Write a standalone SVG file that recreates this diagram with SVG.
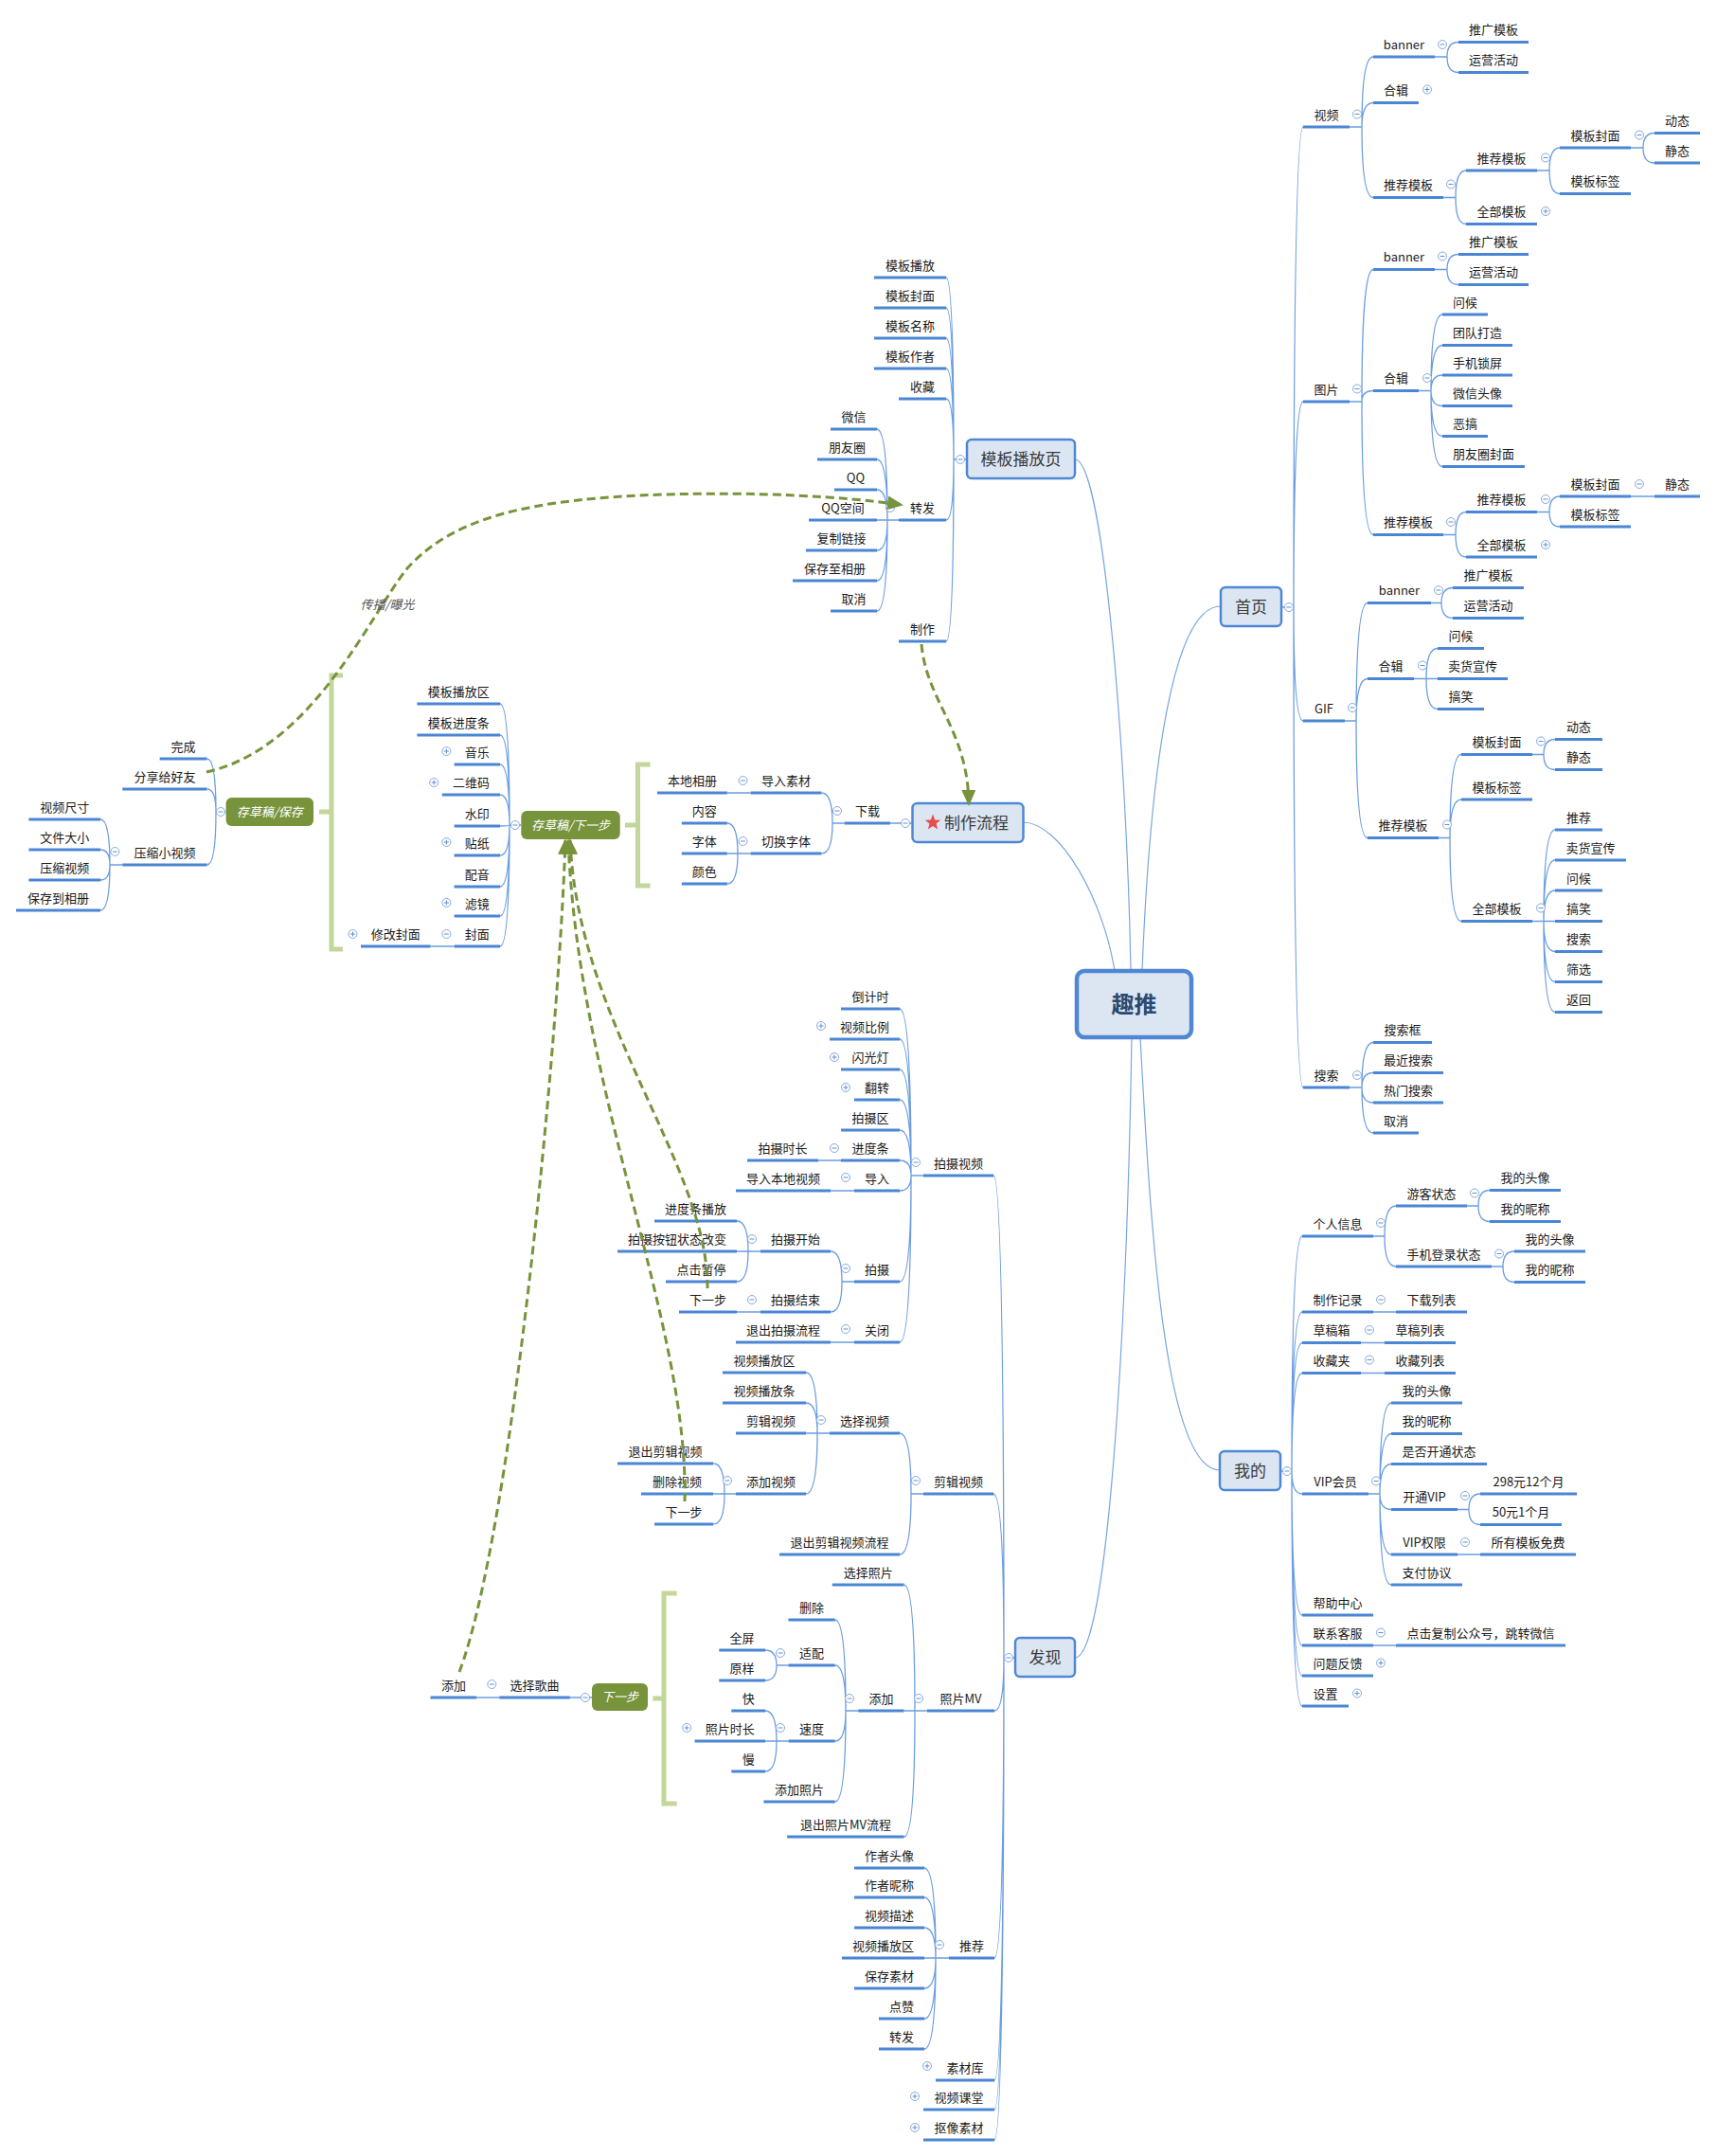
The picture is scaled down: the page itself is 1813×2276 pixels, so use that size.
<svg xmlns="http://www.w3.org/2000/svg" xmlns:xlink="http://www.w3.org/1999/xlink" width="1813" height="2276" viewBox="0 0 1813 2276">
<style>
.u{stroke:#4a86d4;stroke-width:3;fill:none}
.c{stroke:#6b9de0;stroke-width:1.3;fill:none}
.cr{stroke:#7aa6e0;stroke-width:1.2;fill:none}
text{font-family:"Noto Sans CJK SC","Noto Sans",sans-serif;font-size:13px;fill:#1a1a1a;text-anchor:middle}
.bc{fill:#fff;stroke:#86a9dc;stroke-width:1}
.bl{stroke:#5f8fd3;stroke-width:1;fill:none}
.box{fill:#dce6f2;stroke:#4f87d4;stroke-width:2.5}
.bt{font-size:17px;fill:#3a3a3a}
.gbox{fill:#77933c}
.gt{fill:#fff;font-style:italic}
.br{stroke:#c3d69b;stroke-width:5;fill:none}
.rel{stroke:#77933c;stroke-width:3;stroke-dasharray:9 5;fill:none;marker-end:url(#arr)}
</style>
<defs>
<g id="m"><circle r="4.5" class="bc"/><path d="M-2.5 0H2.5" class="bl"/></g>
<g id="p"><circle r="4.5" class="bc"/><path d="M-2.5 0H2.5M0 -2.5V2.5" class="bl"/></g>
<marker id="arr" markerUnits="userSpaceOnUse" markerWidth="17" markerHeight="15" viewBox="0 0 17 15" refX="15" refY="7.5" orient="auto"><path d="M0 0L17 7.5L0 15Z" fill="#77933c"/></marker>
</defs>
<rect width="1813" height="2276" fill="#fff"/>

<g id="connectors">
<path class="cr" d="M1135 485C1165 485 1190 800 1194 1025M1289 640C1240 640 1215 800 1206 1025M1080 868C1120 868 1165 950 1177 1025M1135 1750C1170 1750 1190 1400 1195 1095M1288 1552C1230 1552 1215 1300 1204 1095"/>
<path class="c" d="M1353 641H1366M1366 641Q1366 134 1376 134M1366 641Q1366 424 1376 424M1366 641Q1366 761 1376 761M1366 641Q1366 1148 1376 1148"/>
<path class="c" d="M1425 134H1438M1438 134Q1438 60 1450 60M1438 134Q1438 108.5 1450 108.5M1438 134Q1438 208.5 1450 208.5M1515 60H1528M1528 60Q1528 44.5 1540 44.5M1528 60Q1528 76.5 1540 76.5M1524 208.5H1537M1537 208.5Q1537 180 1548 180M1537 208.5Q1537 236.5 1548 236.5M1623 180H1636M1636 180Q1636 156 1647 156M1636 180Q1636 204.5 1647 204.5M1722 156H1735M1735 156Q1735 140.5 1747 140.5M1735 156Q1735 172 1747 172"/>
<path class="c" d="M1425 424H1438M1438 424Q1438 284.5 1450 284.5M1438 424Q1438 412.5 1450 412.5M1438 424Q1438 564.5 1450 564.5M1515 284.5H1528M1528 284.5Q1528 268.5 1540 268.5M1528 284.5Q1528 300.5 1540 300.5M1498 412.5H1511M1511 412.5Q1511 332 1523 332M1511 412.5Q1511 364.5 1523 364.5M1511 412.5Q1511 396 1523 396M1511 412.5Q1511 428.5 1523 428.5M1511 412.5Q1511 460.5 1523 460.5M1511 412.5Q1511 492.5 1523 492.5M1524 564.5H1537M1537 564.5Q1537 540.5 1548 540.5M1537 564.5Q1537 588 1548 588M1623 540.5H1636M1636 540.5Q1636 524 1647 524M1636 540.5Q1636 556 1647 556M1722 524H1747"/>
<path class="c" d="M1420 761H1432M1432 761Q1432 636.5 1444 636.5M1432 761Q1432 716.5 1444 716.5M1432 761Q1432 884.5 1444 884.5M1511 636.5H1522M1522 636.5Q1522 620.5 1534 620.5M1522 636.5Q1522 652.5 1534 652.5M1493 716.5H1506M1506 716.5Q1506 684.5 1518 684.5M1506 716.5H1518M1506 716.5Q1506 748.5 1518 748.5M1519 884.5H1531M1531 884.5Q1531 796.5 1543 796.5M1531 884.5Q1531 844 1543 844M1531 884.5Q1531 972.5 1543 972.5M1618 796.5H1630M1630 796.5Q1630 780.5 1642 780.5M1630 796.5Q1630 812.5 1642 812.5M1618 972.5H1630M1630 972.5Q1630 876 1642 876M1630 972.5Q1630 908 1642 908M1630 972.5Q1630 940 1642 940M1630 972.5H1642M1630 972.5Q1630 1004.5 1642 1004.5M1630 972.5Q1630 1036.5 1642 1036.5M1630 972.5Q1630 1068.5 1642 1068.5"/>
<path class="c" d="M1425 1148H1438M1438 1148Q1438 1100.5 1450 1100.5M1438 1148Q1438 1132.5 1450 1132.5M1438 1148Q1438 1164 1450 1164M1438 1148Q1438 1196 1450 1196"/>
<path class="c" d="M1352 1553H1364M1364 1553Q1364 1305 1375 1305M1364 1553Q1364 1385 1375 1385M1364 1553Q1364 1417.5 1375 1417.5M1364 1553Q1364 1449.5 1375 1449.5M1364 1553Q1364 1577 1375 1577M1364 1553Q1364 1705 1375 1705M1364 1553Q1364 1737 1375 1737M1364 1553Q1364 1769 1375 1769M1364 1553Q1364 1801 1375 1801M1450 1305H1462M1462 1305Q1462 1273 1474 1273M1462 1305Q1462 1337 1474 1337M1549 1273H1561M1561 1273Q1561 1256.5 1573 1256.5M1561 1273Q1561 1289.5 1573 1289.5M1575 1337H1587M1587 1337Q1587 1321 1599 1321M1587 1337Q1587 1353.5 1599 1353.5M1450 1385H1474M1437 1417.5H1462M1437 1449.5H1462M1445 1577H1457M1457 1577Q1457 1481 1469 1481M1457 1577Q1457 1513.5 1469 1513.5M1457 1577Q1457 1545.5 1469 1545.5M1457 1577Q1457 1593.5 1469 1593.5M1457 1577Q1457 1641 1469 1641M1457 1577Q1457 1673 1469 1673M1539 1593.5H1551M1551 1593.5Q1551 1577 1563 1577M1551 1593.5Q1551 1609.5 1563 1609.5M1539 1641H1563M1450 1737H1474"/>
<path class="c" d="M1021 485H1007M1007 485Q1007 293 999 293M1007 485Q1007 325 999 325M1007 485Q1007 357 999 357M1007 485Q1007 389 999 389M1007 485Q1007 421 999 421M1007 485Q1007 549 999 549M1007 485Q1007 677 999 677M949 549H937M937 549Q937 453 926 453M937 549Q937 485 926 485M937 549Q937 517 926 517M937 549H926M937 549Q937 581 926 581M937 549Q937 613 926 613M937 549Q937 645 926 645"/>
<path class="c" d="M963.5 869H940M891.8 869H879M879 869Q879 837 867.4 837M879 869Q879 901 867.4 901M792.6 837H767.8M792.6 901H779M779 901Q779 869 767.8 869M779 901H767.8M779 901Q779 933 767.8 933"/>
<path class="c" d="M550.3 871H538M538 871Q538 743 528 743M538 871Q538 776 528 776M538 871Q538 807 528 807M538 871Q538 839 528 839M538 871Q538 872 528 872M538 871Q538 903 528 903M538 871Q538 936 528 936M538 871Q538 967 528 967M538 871Q538 999 528 999M479.6 999H454.6M238.6 857H228M228 857Q228 801 218.6 801M228 857Q228 833 218.6 833M228 857Q228 913 218.6 913M129.3 913H116M116 913Q116 865 106 865M116 913Q116 897 106 897M116 913Q116 929 106 929M116 913Q116 961 106 961"/>
<path class="c" d="M1071.6 1750H1060M1060 1750Q1060 1241 1049 1241M1060 1750Q1060 1577 1049 1577M1060 1750Q1060 1806 1050 1806M1060 1750Q1060 2067 1050 2067M1060 1750Q1060 2196 1050 2196M1060 1750Q1060 2227 1050 2227M1060 1750Q1060 2259 1050 2259"/>
<path class="c" d="M975 1241H962M962 1241Q962 1065 950 1065M962 1241Q962 1097 950 1097M962 1241Q962 1129 950 1129M962 1241Q962 1161 950 1161M962 1241Q962 1193 950 1193M962 1241Q962 1225 950 1225M962 1241Q962 1257 950 1257M962 1241Q962 1353 950 1353M962 1241Q962 1417 950 1417M888 1225H864M902 1257H877M902 1353H889M889 1353Q889 1321 877 1321M889 1353Q889 1385 877 1385M803 1321H790M790 1321Q790 1289 778 1289M790 1321H778M790 1321Q790 1353 778 1353M803 1385H778M902 1417H877"/>
<path class="c" d="M975 1577H962M962 1577Q962 1513 950 1513M962 1577Q962 1641 950 1641M876 1513H863M863 1513Q863 1449 851 1449M863 1513Q863 1481 851 1481M863 1513H851M863 1513Q863 1577 851 1577M777 1577H765M765 1577Q765 1545 753 1545M765 1577H753M765 1577Q765 1609 753 1609"/>
<path class="c" d="M979 1806H966M966 1806Q966 1673 954.6 1673M966 1806H954.6M966 1806Q966 1939 954.6 1939M906.2 1806H893M893 1806Q893 1710 881.7 1710M893 1806Q893 1758 881.7 1758M893 1806Q893 1838 881.7 1838M893 1806Q893 1902 881.7 1902M832.5 1758H820M820 1758Q820 1742 808 1742M820 1758Q820 1774 808 1774M832.5 1838H820M820 1838Q820 1806 808 1806M820 1838H808M820 1838Q820 1870 808 1870M625 1792H601.8M527.3 1792H503.3"/>
<path class="c" d="M1002 2067H988M988 2067Q988 1972 976 1972M988 2067Q988 2003 976 2003M988 2067Q988 2035 976 2035M988 2067H976M988 2067Q988 2099 976 2099M988 2067Q988 2131 976 2131M988 2067Q988 2163 976 2163"/>
<path class="br" d="M686.5 807H673.5V935H686.5M673.5 871H660"/>
<path class="br" d="M362 713H350V1002H362M350 857H337"/>
<path class="br" d="M714.6 1682H701V1904H714.6M701 1793H689.4"/>
</g>

<g id="root"><rect x="1137" y="1025" width="121" height="70" rx="8" fill="#dce6f2" stroke="#4f87d4" stroke-width="4.5"/><text x="1197.5" y="1068.5" style="font-size:24px;font-weight:bold;fill:#2b4a72">趣推</text></g>
<g id="n-mbbfy"><rect class="box" x="1021" y="464" width="114" height="41" rx="5"/><text class="bt" x="1078" y="491">模板播放页</text><use href="#m" x="1014" y="485"/></g>
<g id="n-shouye"><rect class="box" x="1289" y="620" width="64" height="41" rx="5"/><text class="bt" x="1321" y="647">首页</text><use href="#m" x="1361" y="641"/></g>
<g id="n-wode"><rect class="box" x="1288" y="1532" width="64" height="41" rx="5"/><text class="bt" x="1320" y="1559">我的</text><use href="#m" x="1359" y="1553"/></g>
<g id="n-faxian"><rect class="box" x="1072" y="1729" width="63" height="41" rx="5"/><text class="bt" x="1103.5" y="1756">发现</text><use href="#m" x="1065" y="1750"/></g>
<g id="n-zzlc"><rect class="box" x="963.5" y="848" width="117" height="41" rx="5"/><path d="M985 859.5L987.2 865.5L993.3 865.7L988.5 869.6L990.2 875.5L985 872L979.8 875.5L981.5 869.6L976.7 865.7L982.8 865.5Z" fill="#e84c4c"/><text class="bt" x="997" y="874.5" style="text-anchor:start">制作流程</text><use href="#m" x="956" y="869"/></g>
<g id="n-ccgxyb"><rect class="gbox" x="550.3" y="856" width="104.4" height="30" rx="6"/><text class="gt" x="602.5" y="875.5">存草稿/下一步</text><use href="#m" x="544" y="871"/></g>
<g id="n-ccgbc"><rect class="gbox" x="238.6" y="842" width="92.4" height="30" rx="6"/><text class="gt" x="284.8" y="861.5">存草稿/保存</text><use href="#m" x="233" y="857"/></g>
<g id="n-xyb"><rect class="gbox" x="625" y="1777" width="59" height="29" rx="6"/><text class="gt" x="654.5" y="1796">下一步</text><use href="#m" x="618" y="1792"/></g>

<g id="branch-shouye">
<g id="n1"><path class="u" d="M1376 134H1425"/><text x="1400.5" y="125.5">视频</text><use href="#m" x="1433" y="120.5"/></g>
<g id="n2"><path class="u" d="M1450 60H1515"/><text x="1482.5" y="51.5">banner</text><use href="#m" x="1523" y="47"/></g>
<g id="n3"><path class="u" d="M1540 44.5H1614"/><text x="1577" y="36">推广模板</text></g>
<g id="n4"><path class="u" d="M1540 76.5H1614"/><text x="1577" y="68">运营活动</text></g>
<g id="n5"><path class="u" d="M1450 108.5H1498"/><text x="1474" y="100">合辑</text><use href="#p" x="1507" y="94.5"/></g>
<g id="n6"><path class="u" d="M1450 208.5H1524"/><text x="1487" y="200">推荐模板</text><use href="#m" x="1532" y="194.5"/></g>
<g id="n7"><path class="u" d="M1548 180H1623"/><text x="1585.5" y="171.5">推荐模板</text><use href="#m" x="1632" y="166.5"/></g>
<g id="n8"><path class="u" d="M1647 156H1722"/><text x="1684.5" y="147.5">模板封面</text><use href="#m" x="1731" y="142.5"/></g>
<g id="n9"><path class="u" d="M1747 140.5H1795"/><text x="1771" y="132">动态</text></g>
<g id="n10"><path class="u" d="M1747 172H1795"/><text x="1771" y="163.5">静态</text></g>
<g id="n11"><path class="u" d="M1647 204.5H1722"/><text x="1684.5" y="196">模板标签</text></g>
<g id="n12"><path class="u" d="M1548 236.5H1623"/><text x="1585.5" y="228">全部模板</text><use href="#p" x="1632" y="223"/></g>
<g id="n13"><path class="u" d="M1376 424H1425"/><text x="1400.5" y="415.5">图片</text><use href="#m" x="1433" y="410.5"/></g>
<g id="n14"><path class="u" d="M1450 284.5H1515"/><text x="1482.5" y="276">banner</text><use href="#m" x="1523" y="270.5"/></g>
<g id="n15"><path class="u" d="M1540 268.5H1614"/><text x="1577" y="260">推广模板</text></g>
<g id="n16"><path class="u" d="M1540 300.5H1614"/><text x="1577" y="292">运营活动</text></g>
<g id="n17"><path class="u" d="M1450 412.5H1498"/><text x="1474" y="404">合辑</text><use href="#m" x="1507" y="399"/></g>
<g id="n18"><path class="u" d="M1523 332H1571"/><text x="1547" y="323.5">问候</text></g>
<g id="n19"><path class="u" d="M1523 364.5H1597"/><text x="1560" y="356">团队打造</text></g>
<g id="n20"><path class="u" d="M1523 396H1597"/><text x="1560" y="387.5">手机锁屏</text></g>
<g id="n21"><path class="u" d="M1523 428.5H1597"/><text x="1560" y="420">微信头像</text></g>
<g id="n22"><path class="u" d="M1523 460.5H1571"/><text x="1547" y="452">恶搞</text></g>
<g id="n23"><path class="u" d="M1523 492.5H1610"/><text x="1566.5" y="484">朋友圈封面</text></g>
<g id="n24"><path class="u" d="M1450 564.5H1524"/><text x="1487" y="556">推荐模板</text><use href="#m" x="1532" y="551"/></g>
<g id="n25"><path class="u" d="M1548 540.5H1623"/><text x="1585.5" y="532">推荐模板</text><use href="#m" x="1632" y="527"/></g>
<g id="n26"><path class="u" d="M1647 524H1722"/><text x="1684.5" y="515.5">模板封面</text><use href="#m" x="1731" y="511"/></g>
<g id="n27"><path class="u" d="M1747 524H1795"/><text x="1771" y="515.5">静态</text></g>
<g id="n28"><path class="u" d="M1647 556H1722"/><text x="1684.5" y="547.5">模板标签</text></g>
<g id="n29"><path class="u" d="M1548 588H1623"/><text x="1585.5" y="579.5">全部模板</text><use href="#p" x="1632" y="575"/></g>
<g id="n30"><path class="u" d="M1376 761H1420"/><text x="1398" y="752.5">GIF</text><use href="#m" x="1428" y="747"/></g>
<g id="n31"><path class="u" d="M1444 636.5H1511"/><text x="1477.5" y="628">banner</text><use href="#m" x="1519" y="623"/></g>
<g id="n32"><path class="u" d="M1534 620.5H1609"/><text x="1571.5" y="612">推广模板</text></g>
<g id="n33"><path class="u" d="M1534 652.5H1609"/><text x="1571.5" y="644">运营活动</text></g>
<g id="n34"><path class="u" d="M1444 716.5H1493"/><text x="1468.5" y="708">合辑</text><use href="#m" x="1502" y="702.5"/></g>
<g id="n35"><path class="u" d="M1518 684.5H1567"/><text x="1542.5" y="676">问候</text></g>
<g id="n36"><path class="u" d="M1518 716.5H1592"/><text x="1555" y="708">卖货宣传</text></g>
<g id="n37"><path class="u" d="M1518 748.5H1567"/><text x="1542.5" y="740">搞笑</text></g>
<g id="n38"><path class="u" d="M1444 884.5H1519"/><text x="1481.5" y="876">推荐模板</text><use href="#m" x="1528" y="870.5"/></g>
<g id="n39"><path class="u" d="M1543 796.5H1618"/><text x="1580.5" y="788">模板封面</text><use href="#m" x="1627" y="782.5"/></g>
<g id="n40"><path class="u" d="M1642 780.5H1692"/><text x="1667" y="772">动态</text></g>
<g id="n41"><path class="u" d="M1642 812.5H1692"/><text x="1667" y="804">静态</text></g>
<g id="n42"><path class="u" d="M1543 844H1618"/><text x="1580.5" y="835.5">模板标签</text></g>
<g id="n43"><path class="u" d="M1543 972.5H1618"/><text x="1580.5" y="964">全部模板</text><use href="#m" x="1627" y="958.5"/></g>
<g id="n44"><path class="u" d="M1642 876H1692"/><text x="1667" y="867.5">推荐</text></g>
<g id="n45"><path class="u" d="M1642 908H1717"/><text x="1679.5" y="899.5">卖货宣传</text></g>
<g id="n46"><path class="u" d="M1642 940H1692"/><text x="1667" y="931.5">问候</text></g>
<g id="n47"><path class="u" d="M1642 972.5H1692"/><text x="1667" y="964">搞笑</text></g>
<g id="n48"><path class="u" d="M1642 1004.5H1692"/><text x="1667" y="996">搜索</text></g>
<g id="n49"><path class="u" d="M1642 1036.5H1692"/><text x="1667" y="1028">筛选</text></g>
<g id="n50"><path class="u" d="M1642 1068.5H1692"/><text x="1667" y="1060">返回</text></g>
<g id="n51"><path class="u" d="M1376 1148H1425"/><text x="1400.5" y="1139.5">搜索</text><use href="#m" x="1433" y="1135"/></g>
<g id="n52"><path class="u" d="M1450 1100.5H1512"/><text x="1481" y="1092">搜索框</text></g>
<g id="n53"><path class="u" d="M1450 1132.5H1524"/><text x="1487" y="1124">最近搜索</text></g>
<g id="n54"><path class="u" d="M1450 1164H1524"/><text x="1487" y="1155.5">热门搜索</text></g>
<g id="n55"><path class="u" d="M1450 1196H1498"/><text x="1474" y="1187.5">取消</text></g>
</g>

<g id="branch-wode">
<g id="w1"><path class="u" d="M1375 1305H1450"/><text x="1412.5" y="1296.5">个人信息</text><use href="#m" x="1458" y="1291"/></g>
<g id="w2"><path class="u" d="M1474 1273H1549"/><text x="1511.5" y="1264.5">游客状态</text><use href="#m" x="1557" y="1259.5"/></g>
<g id="w3"><path class="u" d="M1573 1256.5H1648"/><text x="1610.5" y="1248">我的头像</text></g>
<g id="w4"><path class="u" d="M1573 1289.5H1648"/><text x="1610.5" y="1281">我的昵称</text></g>
<g id="w5"><path class="u" d="M1474 1337H1575"/><text x="1524.5" y="1328.5">手机登录状态</text><use href="#m" x="1583" y="1323.5"/></g>
<g id="w6"><path class="u" d="M1599 1321H1674"/><text x="1636.5" y="1312.5">我的头像</text></g>
<g id="w7"><path class="u" d="M1599 1353.5H1674"/><text x="1636.5" y="1345">我的昵称</text></g>
<g id="w8"><path class="u" d="M1375 1385H1450"/><text x="1412.5" y="1376.5">制作记录</text><use href="#m" x="1458" y="1372"/></g>
<g id="w9"><path class="u" d="M1474 1385H1549"/><text x="1511.5" y="1376.5">下载列表</text></g>
<g id="w10"><path class="u" d="M1375 1417.5H1437"/><text x="1406" y="1409">草稿箱</text><use href="#m" x="1446" y="1404"/></g>
<g id="w11"><path class="u" d="M1462 1417.5H1537"/><text x="1499.5" y="1409">草稿列表</text></g>
<g id="w12"><path class="u" d="M1375 1449.5H1437"/><text x="1406" y="1441">收藏夹</text><use href="#m" x="1446" y="1435.5"/></g>
<g id="w13"><path class="u" d="M1462 1449.5H1537"/><text x="1499.5" y="1441">收藏列表</text></g>
<g id="w14"><path class="u" d="M1375 1577H1445"/><text x="1410" y="1568.5">VIP会员</text><use href="#m" x="1453" y="1563.5"/></g>
<g id="w15"><path class="u" d="M1469 1481H1544"/><text x="1506.5" y="1472.5">我的头像</text></g>
<g id="w16"><path class="u" d="M1469 1513.5H1544"/><text x="1506.5" y="1505">我的昵称</text></g>
<g id="w17"><path class="u" d="M1469 1545.5H1570"/><text x="1519.5" y="1537">是否开通状态</text></g>
<g id="w18"><path class="u" d="M1469 1593.5H1539"/><text x="1504" y="1585">开通VIP</text><use href="#m" x="1547" y="1579"/></g>
<g id="w19"><path class="u" d="M1563 1577H1665"/><text x="1614" y="1568.5">298元12个月</text></g>
<g id="w20"><path class="u" d="M1563 1609.5H1649"/><text x="1606" y="1601">50元1个月</text></g>
<g id="w21"><path class="u" d="M1469 1641H1539"/><text x="1504" y="1632.5">VIP权限</text><use href="#m" x="1547" y="1628"/></g>
<g id="w22"><path class="u" d="M1563 1641H1664"/><text x="1613.5" y="1632.5">所有模板免费</text></g>
<g id="w23"><path class="u" d="M1469 1673H1544"/><text x="1506.5" y="1664.5">支付协议</text></g>
<g id="w24"><path class="u" d="M1375 1705H1450"/><text x="1412.5" y="1696.5">帮助中心</text></g>
<g id="w25"><path class="u" d="M1375 1737H1450"/><text x="1412.5" y="1728.5">联系客服</text><use href="#m" x="1458" y="1723.5"/></g>
<g id="w26"><path class="u" d="M1474 1737H1653"/><text x="1563.5" y="1728.5">点击复制公众号，跳转微信</text></g>
<g id="w27"><path class="u" d="M1375 1769H1450"/><text x="1412.5" y="1760.5">问题反馈</text><use href="#p" x="1458" y="1755.5"/></g>
<g id="w28"><path class="u" d="M1375 1801H1424"/><text x="1399.5" y="1792.5">设置</text><use href="#p" x="1433" y="1787.5"/></g>
</g>

<g id="branch-mbbfy">
<g id="b1"><path class="u" d="M923 293H999"/><text x="961" y="284.5">模板播放</text></g>
<g id="b2"><path class="u" d="M923 325H999"/><text x="961" y="316.5">模板封面</text></g>
<g id="b3"><path class="u" d="M923 357H999"/><text x="961" y="348.5">模板名称</text></g>
<g id="b4"><path class="u" d="M923 389H999"/><text x="961" y="380.5">模板作者</text></g>
<g id="b5"><path class="u" d="M949 421H999"/><text x="974" y="412.5">收藏</text></g>
<g id="b6"><path class="u" d="M949 549H999"/><text x="974" y="540.5">转发</text><use href="#m" x="940" y="536"/></g>
<g id="b7"><path class="u" d="M877 453H926"/><text x="901.5" y="444.5">微信</text></g>
<g id="b8"><path class="u" d="M863 485H926"/><text x="894.5" y="476.5">朋友圈</text></g>
<g id="b9"><path class="u" d="M881 517H926"/><text x="903.5" y="508.5">QQ</text></g>
<g id="b10"><path class="u" d="M854 549H926"/><text x="890" y="540.5">QQ空间</text></g>
<g id="b11"><path class="u" d="M851 581H926"/><text x="888.5" y="572.5">复制链接</text></g>
<g id="b12"><path class="u" d="M837 613H926"/><text x="881.5" y="604.5">保存至相册</text></g>
<g id="b13"><path class="u" d="M877 645H926"/><text x="901.5" y="636.5">取消</text></g>
<g id="b14"><path class="u" d="M949 677H999"/><text x="974" y="668.5">制作</text></g>
</g>

<g id="branch-zzlc">
<g id="z1"><path class="u" d="M891.8 869H940"/><text x="915.9" y="860.5">下载</text><use href="#m" x="884" y="856"/></g>
<g id="z2"><path class="u" d="M792.6 837H867.4"/><text x="830" y="828.5">导入素材</text><use href="#m" x="784.5" y="824"/></g>
<g id="z3"><path class="u" d="M694 837H767.8"/><text x="730.9" y="828.5">本地相册</text></g>
<g id="z4"><path class="u" d="M792.6 901H867.4"/><text x="830" y="892.5">切换字体</text><use href="#m" x="784.5" y="888"/></g>
<g id="z5"><path class="u" d="M719.8 869H767.8"/><text x="743.8" y="860.5">内容</text></g>
<g id="z6"><path class="u" d="M719.8 901H767.8"/><text x="743.8" y="892.5">字体</text></g>
<g id="z7"><path class="u" d="M719.8 933H767.8"/><text x="743.8" y="924.5">颜色</text></g>
<g id="s1"><path class="u" d="M440.4 743H528"/><text x="484.2" y="734.5">模板播放区</text></g>
<g id="s2"><path class="u" d="M440.4 776H528"/><text x="484.2" y="767.5">模板进度条</text></g>
<g id="s3"><path class="u" d="M479.6 807H528"/><text x="503.8" y="798.5">音乐</text><use href="#p" x="471.4" y="793"/></g>
<g id="s4"><path class="u" d="M466.8 839H528"/><text x="497.4" y="830.5">二维码</text><use href="#p" x="458.2" y="826"/></g>
<g id="s5"><path class="u" d="M479.6 872H528"/><text x="503.8" y="863.5">水印</text></g>
<g id="s6"><path class="u" d="M479.6 903H528"/><text x="503.8" y="894.5">贴纸</text><use href="#p" x="471.4" y="889"/></g>
<g id="s7"><path class="u" d="M479.6 936H528"/><text x="503.8" y="927.5">配音</text></g>
<g id="s8"><path class="u" d="M479.6 967H528"/><text x="503.8" y="958.5">滤镜</text><use href="#p" x="471.4" y="953"/></g>
<g id="s9"><path class="u" d="M479.6 999H528"/><text x="503.8" y="990.5">封面</text><use href="#m" x="471.4" y="986"/></g>
<g id="s10"><path class="u" d="M381 999H454.6"/><text x="417.8" y="990.5">修改封面</text><use href="#p" x="372.5" y="986"/></g>
<g id="k1"><path class="u" d="M168.6 801H218.6"/><text x="193.6" y="792.5">完成</text></g>
<g id="k2"><path class="u" d="M129.3 833H218.6"/><text x="174" y="824.5">分享给好友</text></g>
<g id="k3"><path class="u" d="M129.3 913H218.6"/><text x="174" y="904.5">压缩小视频</text><use href="#m" x="121.4" y="899"/></g>
<g id="k4"><path class="u" d="M30.4 865H106"/><text x="68.2" y="856.5">视频尺寸</text></g>
<g id="k5"><path class="u" d="M30.4 897H106"/><text x="68.2" y="888.5">文件大小</text></g>
<g id="k6"><path class="u" d="M30.4 929H106"/><text x="68.2" y="920.5">压缩视频</text></g>
<g id="k7"><path class="u" d="M17 961H106"/><text x="61.5" y="952.5">保存到相册</text></g>
</g>

<g id="branch-faxian">
<g id="f1"><path class="u" d="M975 1241H1049"/><text x="1012" y="1232.5">拍摄视频</text><use href="#m" x="967" y="1227"/></g>
<g id="f2"><path class="u" d="M888 1065H950"/><text x="919" y="1056.5">倒计时</text></g>
<g id="f3"><path class="u" d="M876 1097H950"/><text x="913" y="1088.5">视频比例</text><use href="#p" x="867" y="1083"/></g>
<g id="f4"><path class="u" d="M888 1129H950"/><text x="919" y="1120.5">闪光灯</text><use href="#p" x="881" y="1116"/></g>
<g id="f5"><path class="u" d="M902 1161H950"/><text x="926" y="1152.5">翻转</text><use href="#p" x="893" y="1148"/></g>
<g id="f6"><path class="u" d="M888 1193H950"/><text x="919" y="1184.5">拍摄区</text></g>
<g id="f7"><path class="u" d="M888 1225H950"/><text x="919" y="1216.5">进度条</text><use href="#m" x="881" y="1212"/></g>
<g id="f8"><path class="u" d="M789 1225H864"/><text x="826.5" y="1216.5">拍摄时长</text></g>
<g id="f9"><path class="u" d="M902 1257H950"/><text x="926" y="1248.5">导入</text><use href="#m" x="893" y="1243"/></g>
<g id="f10"><path class="u" d="M777 1257H877"/><text x="827" y="1248.5">导入本地视频</text></g>
<g id="f11"><path class="u" d="M902 1353H950"/><text x="926" y="1344.5">拍摄</text><use href="#m" x="893" y="1339"/></g>
<g id="f12"><path class="u" d="M803 1321H877"/><text x="840" y="1312.5">拍摄开始</text><use href="#m" x="794" y="1308"/></g>
<g id="f13"><path class="u" d="M691 1289H778"/><text x="734.5" y="1280.5">进度条播放</text></g>
<g id="f14"><path class="u" d="M652 1321H778"/><text x="715" y="1312.5">拍摄按钮状态改变</text></g>
<g id="f15"><path class="u" d="M703 1353H778"/><text x="740.5" y="1344.5">点击暂停</text></g>
<g id="f16"><path class="u" d="M803 1385H877"/><text x="840" y="1376.5">拍摄结束</text><use href="#m" x="794" y="1372"/></g>
<g id="f17"><path class="u" d="M717 1385H778"/><text x="747.5" y="1376.5">下一步</text></g>
<g id="f18"><path class="u" d="M902 1417H950"/><text x="926" y="1408.5">关闭</text><use href="#m" x="893" y="1403"/></g>
<g id="f19"><path class="u" d="M777 1417H877"/><text x="827" y="1408.5">退出拍摄流程</text></g>
<g id="f20"><path class="u" d="M975 1577H1049"/><text x="1012" y="1568.5">剪辑视频</text><use href="#m" x="967" y="1563"/></g>
<g id="f21"><path class="u" d="M876 1513H950"/><text x="913" y="1504.5">选择视频</text><use href="#m" x="867" y="1499"/></g>
<g id="f22"><path class="u" d="M763 1449H851"/><text x="807" y="1440.5">视频播放区</text></g>
<g id="f23"><path class="u" d="M763 1481H851"/><text x="807" y="1472.5">视频播放条</text></g>
<g id="f24"><path class="u" d="M777 1513H851"/><text x="814" y="1504.5">剪辑视频</text></g>
<g id="f25"><path class="u" d="M777 1577H851"/><text x="814" y="1568.5">添加视频</text><use href="#m" x="768" y="1563"/></g>
<g id="f26"><path class="u" d="M652 1545H753"/><text x="702.5" y="1536.5">退出剪辑视频</text></g>
<g id="f27"><path class="u" d="M677 1577H753"/><text x="715" y="1568.5">删除视频</text></g>
<g id="f28"><path class="u" d="M691 1609H753"/><text x="722" y="1600.5">下一步</text></g>
<g id="f29"><path class="u" d="M823 1641H950"/><text x="886.5" y="1632.5">退出剪辑视频流程</text></g>
<g id="f30"><path class="u" d="M979 1806H1050"/><text x="1014.5" y="1797.5">照片MV</text><use href="#m" x="970" y="1793"/></g>
<g id="f31"><path class="u" d="M878.8 1673H954.6"/><text x="916.7" y="1664.5">选择照片</text></g>
<g id="f32"><path class="u" d="M906.2 1806H954.6"/><text x="930.4" y="1797.5">添加</text><use href="#m" x="897" y="1793"/></g>
<g id="f33"><path class="u" d="M832.5 1710H881.7"/><text x="857.1" y="1701.5">删除</text></g>
<g id="f34"><path class="u" d="M832.5 1758H881.7"/><text x="857.1" y="1749.5">适配</text><use href="#m" x="824" y="1745"/></g>
<g id="f35"><path class="u" d="M759.3 1742H808"/><text x="783.6" y="1733.5">全屏</text></g>
<g id="f36"><path class="u" d="M759.3 1774H808"/><text x="783.6" y="1765.5">原样</text></g>
<g id="f37"><path class="u" d="M832.5 1838H881.7"/><text x="857.1" y="1829.5">速度</text><use href="#m" x="824" y="1824"/></g>
<g id="f38"><path class="u" d="M772.3 1806H808"/><text x="790.2" y="1797.5">快</text></g>
<g id="f39"><path class="u" d="M733.6 1838H808"/><text x="770.8" y="1829.5">照片时长</text><use href="#p" x="725.2" y="1824"/></g>
<g id="f40"><path class="u" d="M772.3 1870H808"/><text x="790.2" y="1861.5">慢</text></g>
<g id="f41"><path class="u" d="M806.4 1902H881.7"/><text x="844" y="1893.5">添加照片</text></g>
<g id="f42"><path class="u" d="M831.2 1939H954.6"/><text x="892.9" y="1930.5">退出照片MV流程</text></g>
<g id="f43"><path class="u" d="M527.3 1792H601.8"/><text x="564.5" y="1783.5">选择歌曲</text><use href="#m" x="519.3" y="1778"/></g>
<g id="f44"><path class="u" d="M454.5 1792H503.3"/><text x="478.9" y="1783.5">添加</text></g>
<g id="f45"><path class="u" d="M1002 2067H1050"/><text x="1026" y="2058.5">推荐</text><use href="#m" x="992" y="2053"/></g>
<g id="f46"><path class="u" d="M902 1972H976"/><text x="939" y="1963.5">作者头像</text></g>
<g id="f47"><path class="u" d="M902 2003H976"/><text x="939" y="1994.5">作者昵称</text></g>
<g id="f48"><path class="u" d="M902 2035H976"/><text x="939" y="2026.5">视频描述</text></g>
<g id="f49"><path class="u" d="M889 2067H976"/><text x="932.5" y="2058.5">视频播放区</text></g>
<g id="f50"><path class="u" d="M902 2099H976"/><text x="939" y="2090.5">保存素材</text></g>
<g id="f51"><path class="u" d="M928 2131H976"/><text x="952" y="2122.5">点赞</text></g>
<g id="f52"><path class="u" d="M928 2163H976"/><text x="952" y="2154.5">转发</text></g>
<g id="f53"><path class="u" d="M988 2196H1050"/><text x="1019" y="2187.5">素材库</text><use href="#p" x="979" y="2181"/></g>
<g id="f54"><path class="u" d="M975 2227H1050"/><text x="1012.5" y="2218.5">视频课堂</text><use href="#p" x="966" y="2213"/></g>
<g id="f55"><path class="u" d="M975 2259H1050"/><text x="1012.5" y="2250.5">抠像素材</text><use href="#p" x="966" y="2246"/></g>
</g>

<g id="relations">
<path class="rel" d="M218 815C330 790 390 650 430 600C480 545 560 527 700 522C800 519 890 524 952 533"/>
<text x="409" y="643" style="font-style:italic;fill:#555">传播/曝光</text>
<path class="rel" d="M973 680C978 740 1022 770 1023 849"/>
<path class="rel" d="M747 1360C748 1230 610 1080 602 887"/>
<path class="rel" d="M723 1585C728 1400 610 1150 600 887"/>
<path class="rel" d="M485 1765C540 1620 590 1100 597 887"/>
</g>
</svg>
